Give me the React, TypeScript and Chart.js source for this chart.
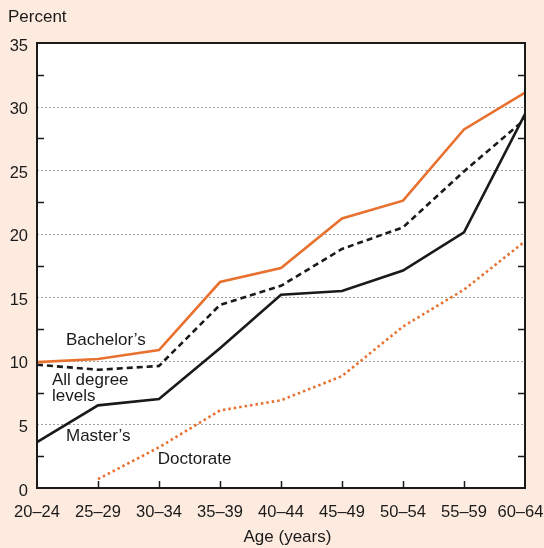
import React, { useEffect, useRef } from 'react';
import { Chart, registerables } from 'chart.js';

Chart.register(...registerables);

const ageGroups = ['20–24', '25–29', '30–34', '35–39', '40–44', '45–49', '50–54', '55–59', '60–64'];
const bachelors = [9.9, 10.15, 10.85, 16.2, 17.3, 21.2, 22.6, 28.2, 31.1];
const allDegrees = [9.7, 9.3, 9.6, 14.4, 15.9, 18.8, 20.5, 24.9, 29.0];
const masters = [3.6, 6.5, 7.0, 11.0, 15.2, 15.5, 17.1, 20.1, 29.4];
const doctorate = [null, 0.7, 3.2, 6.1, 6.9, 8.8, 12.7, 15.6, 19.4];
const gridValues = [5, 10, 15, 20, 25, 30];
const minorTickValues = [2.5, 7.5, 12.5, 17.5, 22.5, 27.5, 32.5];

const FONT = '"Liberation Sans", Arial, Helvetica, sans-serif';
const ORANGE = '#e8712f';
const INK = '#1a1a1a';
const BG = '#fdebdf';

const seriesNotes = [
  { lines: ['Bachelor’s'], x: 0.475, y: 11.6 },
  { lines: ['All degree', 'levels'], x: 0.246, y: 8.5 },
  { lines: ['Master’s'], x: 0.475, y: 4.1 },
  { lines: ['Doctorate'], x: 1.98, y: 2.25 },
];

const decor = {
  id: 'decor',
  beforeDatasetsDraw(chart: any) {
    const { ctx, chartArea, scales } = chart;
    const { left, right, top, bottom } = chartArea;
    const y = scales.y;
    ctx.save();
    ctx.fillStyle = '#ffffff';
    ctx.fillRect(left, top, right - left, bottom - top);
    ctx.strokeStyle = '#a0a0a0';
    ctx.lineWidth = 1;
    ctx.setLineDash([2, 2]);
    for (const v of gridValues) {
      const py = Math.round(y.getPixelForValue(v)) + 0.5;
      ctx.beginPath();
      ctx.moveTo(left, py);
      ctx.lineTo(right, py);
      ctx.stroke();
    }
    ctx.restore();
  },
  afterDatasetsDraw(chart: any) {
    const { ctx, chartArea, scales } = chart;
    const { left, right, top, bottom } = chartArea;
    const x = scales.x;
    const y = scales.y;
    ctx.save();
    ctx.setLineDash([]);
    ctx.strokeStyle = INK;
    ctx.lineWidth = 1.5;
    for (const v of minorTickValues) {
      const py = Math.round(y.getPixelForValue(v)) + 0.5;
      ctx.beginPath();
      ctx.moveTo(left, py);
      ctx.lineTo(left + 7, py);
      ctx.moveTo(right, py);
      ctx.lineTo(right - 7, py);
      ctx.stroke();
    }
    for (let i = 1; i < ageGroups.length - 1; i++) {
      const px = Math.round(x.getPixelForValue(i)) + 0.5;
      ctx.beginPath();
      ctx.moveTo(px, bottom);
      ctx.lineTo(px, bottom - 7);
      ctx.stroke();
    }
    ctx.lineWidth = 2;
    ctx.strokeRect(left, top, right - left, bottom - top);

    ctx.fillStyle = INK;
    ctx.font = `17px ${FONT}`;
    ctx.textBaseline = 'middle';
    ctx.textAlign = 'left';
    for (const n of seriesNotes) {
      const px = x.getPixelForValue(n.x);
      const py = y.getPixelForValue(n.y);
      n.lines.forEach((t, i) => ctx.fillText(t, px, py + i * 16.5));
    }
    ctx.fillText('Percent', 8, 17);
    ctx.restore();
  },
};

export default function App() {
  const ref = useRef<HTMLCanvasElement | null>(null);
  useEffect(() => {
    if (!ref.current) return;
    const chart = new Chart(ref.current, {
      type: 'line',
      data: {
        labels: ageGroups,
        datasets: [
          { label: 'Bachelor’s', data: bachelors, borderColor: ORANGE, borderWidth: 2.6, pointRadius: 0, tension: 0 },
          { label: 'All degree levels', data: allDegrees, borderColor: INK, borderWidth: 2.6, borderDash: [6, 4], pointRadius: 0, tension: 0 },
          { label: 'Master’s', data: masters, borderColor: INK, borderWidth: 2.6, pointRadius: 0, tension: 0 },
          { label: 'Doctorate', data: doctorate, borderColor: ORANGE, borderWidth: 2.6, borderDash: [2.5, 3], pointRadius: 0, tension: 0, spanGaps: false },
        ],
      },
      options: {
        responsive: false,
        animation: false,
        layout: { padding: { left: 0, right: 19, top: 43, bottom: 0 } },
        plugins: { legend: { display: false }, tooltip: { enabled: false }, title: { display: false } },
        scales: {
          x: {
            type: 'category',
            offset: false,
            grid: { display: false, drawTicks: false },
            border: { display: false },
            ticks: {
              color: INK,
              font: { family: FONT, size: 16.5 },
              padding: 15,
              maxRotation: 0,
              autoSkip: false,
              callback: (_v: any, i: number) => (i === ageGroups.length - 1 ? ageGroups[i] + '  ' : ageGroups[i]),
            },
            title: { display: true, text: '  \u2009Age (years)', color: INK, font: { family: FONT, size: 17 }, padding: { top: 0, bottom: 0 } },
            afterFit(scale: any) {
              scale.height = 60;
              scale.paddingLeft = 0;
              scale.paddingRight = 0;
            },
          },
          y: {
            min: 0,
            max: 35,
            grid: { display: false, drawTicks: false },
            border: { display: false },
            ticks: { stepSize: 5, color: INK, font: { family: FONT, size: 16.5 }, padding: 9, labelOffset: 3 },
            afterFit(scale: any) {
              scale.width = 37;
              scale.paddingTop = 0;
              scale.paddingBottom = 0;
            },
          },
        },
      },
      plugins: [decor],
    });
    return () => chart.destroy();
  }, []);
  return (
    <div style={{ position: 'fixed', left: 0, top: 0, width: 544, height: 548, background: BG }}>
      <canvas ref={ref} width={544} height={548} style={{ display: 'block' }} />
    </div>
  );
}
